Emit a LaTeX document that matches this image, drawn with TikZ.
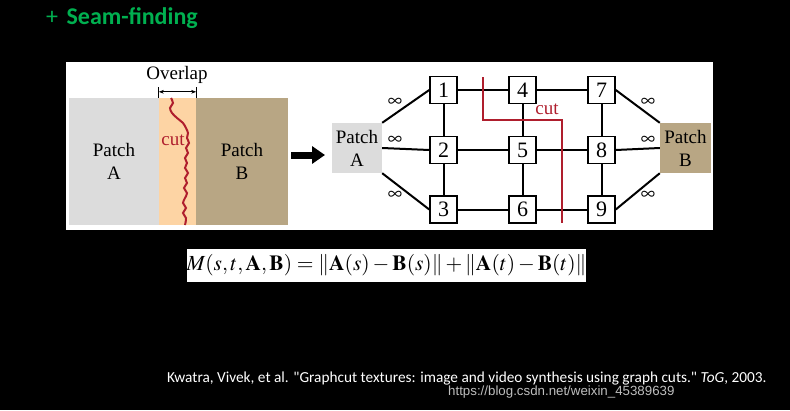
\documentclass[tikz,border=0pt]{standalone}
\usepackage{mathptmx}
\usepackage{fontspec}
\setmainfont{Liberation Serif}
\newfontfamily\calibri{Carlito}
\newfontfamily\arialf{Liberation Sans}
\usetikzlibrary{arrows.meta,positioning,calc}
\definecolor{seamgreen}{RGB}{0,176,80}
\definecolor{patchgray}{RGB}{220,220,220}
\definecolor{overlapor}{RGB}{253,212,164}
\definecolor{patchtan}{RGB}{184,166,132}
\definecolor{cutred}{RGB}{175,30,45}
\definecolor{markgray}{RGB}{190,190,190}

\begin{document}
\begin{tikzpicture}[x=1pt, y=-1pt,
  patchtxt/.style={align=center, inner sep=0pt, font=\fontsize{19}{23}\selectfont},
  gnode/.style={draw, line width=1.5pt, fill=white, minimum size=27pt, inner sep=0pt, font=\fontsize{22}{22}\selectfont},
  edge/.style={line width=2pt},
  cutline/.style={draw=cutred, line width=2pt},
  inflab/.style={inner sep=0pt, font=\fontsize{20}{20}\selectfont}
]
\useasboundingbox (0,0) rectangle (790,410);
\fill[black] (0,0) rectangle (790,410);
% title
\node[anchor=west, inner sep=0pt, text=seamgreen, font=\calibri\bfseries\fontsize{24}{28}\selectfont] (title) at (46,18) {{\mdseries +}\hspace{3pt} Seam-finding};
% white panel
\fill[white] (66,62) rectangle (713,230);
% left: overlapping patches
\node[patchtxt, fill=patchgray, minimum width=90pt, minimum height=127pt] (bigA) at (114,161.5) {Patch\\A};
\node[fill=overlapor, minimum width=37pt, minimum height=127pt, inner sep=0pt] (ov) at (177.5,161.5) {};
\node[patchtxt, fill=patchtan, minimum width=92pt, minimum height=127pt] (bigB) at (242,161.5) {Patch\\B};
\draw[line width=0.8pt] (ov.north west) -- ++(0,-11);
\draw[line width=0.8pt] (ov.north east) -- ++(0,-11);
\draw[line width=0.8pt, {Stealth[length=5pt]}-{Stealth[length=5pt]}] ([yshift=6pt]ov.north west) -- ([yshift=6pt]ov.north east);
\node[patchtxt] (ovlab) at (177,75) {Overlap};
\draw[cutline] plot[smooth] coordinates {(171,98) (173,103) (170,108) (172,113) (177,118) (183,123) (186,128) (188,133) (187,138) (189,143) (186,148) (188,153) (185,158) (187,163) (185,168) (188,173) (185,178) (187,183) (184,188) (187,193) (185,198) (183,203) (186,208) (183,213) (186,218) (185,225)};
\node[patchtxt, text=cutred] (cutA) at (173,140) {cut};
% arrow
\coordinate (arrS) at (291,155);
\coordinate (arrE) at (325,155);
\draw[line width=7pt, -{Triangle[length=13pt,width=17pt]}] (arrS) -- (arrE);
% right: graph
\node[patchtxt, fill=patchgray, minimum width=50pt, minimum height=50pt] (pa) at (357,148) {Patch\\A};
\node[patchtxt, fill=patchtan, minimum width=51pt, minimum height=50pt] (pb) at (685.5,148) {Patch\\B};
\foreach \n/\x/\y in {1/443.5/90, 2/443.5/150, 3/443.5/209.5,
                      4/522.5/90, 5/522.5/150, 6/522.5/209.5,
                      7/601.5/90, 8/601.5/150, 9/601.5/209.5} {
  \node[gnode] (n\n) at (\x,\y) {\n};
}
\foreach \a/\b in {1/4, 4/7, 2/5, 5/8, 3/6, 6/9, 1/2, 2/3, 4/5, 5/6, 7/8, 8/9} {
  \draw[edge] (n\a) -- (n\b);
}
\draw[edge] (pa.north east) -- (n1.west);
\draw[edge] (pa.east) -- (n2.west);
\draw[edge] (pa.south east) -- (n3.west);
\draw[edge] (n7.east) -- (pb.north west);
\draw[edge] (n8.east) -- (pb.west);
\draw[edge] (n9.east) -- (pb.south west);
\foreach \i/\x/\y in {l1/395/102, l2/395/140, l3/395/195, r1/648/102, r2/648/140, r3/648/195} {
  \node[inflab] (inf\i) at (\x,\y) {$\infty$};
}
\draw[cutline] (483,77) -- (483,120) -- (562,120) -- (562,223);
\node[patchtxt, text=cutred] (cutG) at (547,109) {cut};
% formula
\node[fill=white, minimum width=399pt, minimum height=33pt, inner sep=0pt, font=\fontsize{21.5}{22}\selectfont] (eq) at (386.5,265.5)
  {$M(s,t,\mathbf{A},\mathbf{B}) = \|\mathbf{A}(s)-\mathbf{B}(s)\| + \|\mathbf{A}(t)-\mathbf{B}(t)\|$};
% reference
\node[anchor=west, inner sep=0pt, text=white, font=\calibri\fontsize{15.3}{17}\selectfont] (cite) at (167,378)
  {Kwatra, Vivek, et al. "Graphcut textures: image and video synthesis using graph cuts." \textit{ToG}, 2003.};
\node[anchor=west, inner sep=0pt, text=markgray, font=\arialf\fontsize{13.3}{15}\selectfont] (mark) at (448,392) {https://blog.csdn.net/weixin\_45389639};
\end{tikzpicture}
\end{document}
